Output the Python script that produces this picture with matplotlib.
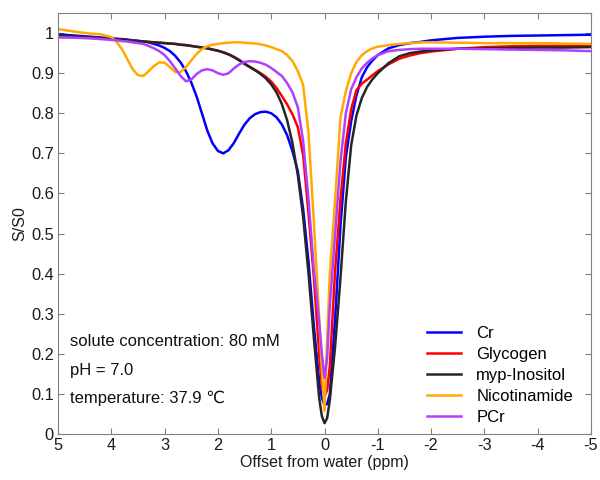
import matplotlib
matplotlib.use("Agg")
import matplotlib.pyplot as plt

plt.rcParams['font.family'] = ['Liberation Sans', 'DejaVu Sans']

# Offset from water (ppm)
ppm = [5.0, 4.8, 4.6, 4.4, 4.2,
       4.0, 3.9, 3.8, 3.7, 3.6, 3.5, 3.4, 3.3, 3.2, 3.1,
       3.0, 2.9, 2.8, 2.7, 2.6, 2.5, 2.4, 2.3, 2.2, 2.1,
       2.0, 1.9, 1.8, 1.7, 1.6, 1.5, 1.4, 1.3, 1.2, 1.1,
       1.0, 0.9, 0.8, 0.7, 0.6, 0.5, 0.4, 0.3, 0.2, 0.1,
       0.05, 0.0, -0.05, -0.1, -0.2, -0.3, -0.4, -0.5, -0.6, -0.7,
       -0.8, -0.9, -1.0, -1.2, -1.4, -1.6, -1.8, -2.0, -2.5, -3.0,
       -3.5, -4.0, -4.5, -5.0]

cr = [0.997, 0.995, 0.993, 0.991, 0.989,
      0.987, 0.986, 0.985, 0.984, 0.982, 0.981, 0.979, 0.977, 0.973, 0.969,
      0.963, 0.955, 0.943, 0.927, 0.905, 0.877, 0.842, 0.800, 0.757, 0.725,
      0.706, 0.700, 0.708, 0.726, 0.750, 0.772, 0.788, 0.798, 0.803, 0.804,
      0.800, 0.790, 0.772, 0.745, 0.705, 0.655, 0.560, 0.430, 0.270, 0.130,
      0.090, 0.072, 0.075, 0.100, 0.290, 0.520, 0.690, 0.780, 0.845, 0.890,
      0.915, 0.932, 0.945, 0.962, 0.970, 0.975, 0.978, 0.982, 0.988, 0.991,
      0.993, 0.994, 0.995, 0.996]

glycogen = [0.990, 0.990, 0.989, 0.988, 0.987,
            0.986, 0.985, 0.983, 0.982, 0.981, 0.980, 0.979, 0.978, 0.977, 0.976,
            0.975, 0.974, 0.973, 0.971, 0.970, 0.968, 0.966, 0.964, 0.962, 0.959,
            0.956, 0.952, 0.947, 0.941, 0.933, 0.924, 0.916, 0.908, 0.900, 0.891,
            0.879, 0.863, 0.843, 0.822, 0.797, 0.765, 0.695, 0.550, 0.390, 0.200,
            0.120, 0.093, 0.110, 0.170, 0.410, 0.585, 0.725, 0.810, 0.858, 0.874,
            0.884, 0.895, 0.905, 0.922, 0.936, 0.944, 0.950, 0.954, 0.961, 0.965,
            0.967, 0.968, 0.968, 0.968]

inositol = [0.995, 0.993, 0.991, 0.989, 0.987,
            0.985, 0.984, 0.983, 0.982, 0.981, 0.980, 0.979, 0.978, 0.977, 0.976,
            0.975, 0.974, 0.973, 0.971, 0.970, 0.968, 0.966, 0.964, 0.962, 0.959,
            0.956, 0.952, 0.947, 0.940, 0.932, 0.923, 0.915, 0.907, 0.898, 0.887,
            0.872, 0.852, 0.823, 0.782, 0.725, 0.645, 0.540, 0.400, 0.240, 0.090,
            0.045, 0.027, 0.040, 0.085, 0.220, 0.390, 0.580, 0.720, 0.795, 0.838,
            0.866, 0.885, 0.900, 0.925, 0.942, 0.950, 0.954, 0.957, 0.961, 0.962,
            0.963, 0.964, 0.964, 0.965]

nicotinamide = [1.010, 1.006, 1.002, 0.999, 0.997,
                0.990, 0.978, 0.960, 0.935, 0.910, 0.895, 0.893, 0.905, 0.918, 0.927,
                0.926, 0.915, 0.903, 0.903, 0.915, 0.932, 0.948, 0.960, 0.967, 0.971,
                0.973, 0.975, 0.976, 0.977, 0.977, 0.976, 0.975, 0.974, 0.972, 0.969,
                0.965, 0.960, 0.955, 0.945, 0.930, 0.905, 0.870, 0.750, 0.530, 0.290,
                0.160, 0.058, 0.240, 0.400, 0.585, 0.790, 0.855, 0.900, 0.928, 0.945,
                0.955, 0.962, 0.966, 0.970, 0.973, 0.975, 0.977, 0.977, 0.976, 0.975,
                0.975, 0.975, 0.974, 0.973]

pcr = [0.990, 0.989, 0.988, 0.987, 0.985,
       0.983, 0.982, 0.980, 0.979, 0.977, 0.975, 0.973, 0.968, 0.962, 0.955,
       0.945, 0.930, 0.912, 0.893, 0.880, 0.884, 0.898, 0.907, 0.910, 0.907,
       0.900, 0.896, 0.900, 0.912, 0.922, 0.928, 0.930, 0.929, 0.926, 0.921,
       0.913, 0.903, 0.893, 0.875, 0.852, 0.815, 0.730, 0.585, 0.410, 0.280,
       0.200, 0.140, 0.190, 0.320, 0.500, 0.680, 0.800, 0.860, 0.890, 0.912,
       0.926, 0.937, 0.945, 0.955, 0.958, 0.960, 0.961, 0.961, 0.961, 0.960,
       0.959, 0.958, 0.957, 0.955]

labels = ['Cr', 'Glycogen', 'myp-Inositol', 'Nicotinamide', 'PCr']
colors = ['#0000FF', '#FF0000', '#262626', '#FFAA00', '#B040FF']
series = [cr, glycogen, inositol, nicotinamide, pcr]

xticks = [5, 4, 3, 2, 1, 0, -1, -2, -3, -4, -5]
yticks = [0, 0.1, 0.2, 0.3, 0.4, 0.5, 0.6, 0.7, 0.8, 0.9, 1]
ytick_labels = ['0', '0.1', '0.2', '0.3', '0.4', '0.5', '0.6', '0.7', '0.8', '0.9', '1']

notes = ['solute concentration: 80 mM', 'pH = 7.0', 'temperature: 37.9 \u2103']

fig = plt.figure(figsize=(6, 4.8), dpi=100)
ax = fig.add_axes([0.0967, 0.0958, 0.8883, 0.877])

for vals, lab, col in zip(series, labels, colors):
    ax.plot(ppm, vals, color=col, lw=1.8, label=lab)

ax.set_xlim(5, -5)
ax.set_ylim(0, 1.05)
ax.set_xticks(xticks)
ax.set_xticklabels([str(t) for t in xticks])
ax.set_yticks(yticks)
ax.set_yticklabels(ytick_labels)
ax.tick_params(direction='in', top=True, right=True, length=4, width=0.8,
               color='#808080', labelsize=11.8, labelcolor='#1a1a1a', pad=3)
for s in ax.spines.values():
    s.set_color('#808080')
    s.set_linewidth(0.8)

ax.set_xlabel('Offset from water (ppm)', fontsize=11.5, color='#1a1a1a', labelpad=1)
ax.set_ylabel('S/S0', fontsize=11.5, color='#1a1a1a', labelpad=3)

leg = ax.legend(loc='lower right', frameon=False, fontsize=12,
                handlelength=2.0, handletextpad=0.95, labelspacing=0.36,
                borderaxespad=0.0, bbox_to_anchor=(0.979, 0.005))

for i, t in enumerate(notes):
    ax.text(0.0225, 0.219 - i * 0.067, t, transform=ax.transAxes,
            fontsize=12, color='#111111', va='center', ha='left')

fig.savefig('out.png', dpi=100)
